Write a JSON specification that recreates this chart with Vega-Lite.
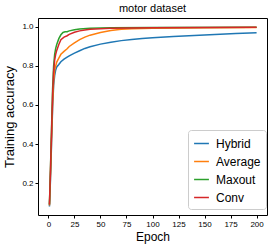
{
  "$schema": "https://vega.github.io/schema/vega-lite/v6.json",
  "autosize": "none",
  "width": 229,
  "height": 197,
  "padding": {"left": 38, "top": 18, "right": 10, "bottom": 34},
  "background": "white",
  "config": {
    "view": {"stroke": "black", "strokeWidth": 1},
    "font": "Liberation Sans"
  },
  "title": {"text": "motor dataset", "fontSize": 11, "fontWeight": "normal", "font": "Liberation Sans", "offset": 4, "color": "black"},
  "datasets": {
    "d": [
      {"model": "Hybrid", "epoch": 1, "acc": 0.08},
      {"model": "Hybrid", "epoch": 2, "acc": 0.22},
      {"model": "Hybrid", "epoch": 3, "acc": 0.40},
      {"model": "Hybrid", "epoch": 4, "acc": 0.58},
      {"model": "Hybrid", "epoch": 5, "acc": 0.70},
      {"model": "Hybrid", "epoch": 6, "acc": 0.75},
      {"model": "Hybrid", "epoch": 7, "acc": 0.78},
      {"model": "Hybrid", "epoch": 8, "acc": 0.795},
      {"model": "Hybrid", "epoch": 10, "acc": 0.808},
      {"model": "Hybrid", "epoch": 12, "acc": 0.822},
      {"model": "Hybrid", "epoch": 15, "acc": 0.835},
      {"model": "Hybrid", "epoch": 18, "acc": 0.845},
      {"model": "Hybrid", "epoch": 20, "acc": 0.852},
      {"model": "Hybrid", "epoch": 25, "acc": 0.866},
      {"model": "Hybrid", "epoch": 30, "acc": 0.878},
      {"model": "Hybrid", "epoch": 35, "acc": 0.89},
      {"model": "Hybrid", "epoch": 40, "acc": 0.899},
      {"model": "Hybrid", "epoch": 50, "acc": 0.912},
      {"model": "Hybrid", "epoch": 60, "acc": 0.922},
      {"model": "Hybrid", "epoch": 70, "acc": 0.93},
      {"model": "Hybrid", "epoch": 80, "acc": 0.936},
      {"model": "Hybrid", "epoch": 90, "acc": 0.941},
      {"model": "Hybrid", "epoch": 100, "acc": 0.945},
      {"model": "Hybrid", "epoch": 120, "acc": 0.951},
      {"model": "Hybrid", "epoch": 140, "acc": 0.956},
      {"model": "Hybrid", "epoch": 160, "acc": 0.962},
      {"model": "Hybrid", "epoch": 180, "acc": 0.966},
      {"model": "Hybrid", "epoch": 200, "acc": 0.97},

      {"model": "Average", "epoch": 1, "acc": 0.085},
      {"model": "Average", "epoch": 2, "acc": 0.24},
      {"model": "Average", "epoch": 3, "acc": 0.42},
      {"model": "Average", "epoch": 4, "acc": 0.60},
      {"model": "Average", "epoch": 5, "acc": 0.72},
      {"model": "Average", "epoch": 6, "acc": 0.78},
      {"model": "Average", "epoch": 7, "acc": 0.80},
      {"model": "Average", "epoch": 8, "acc": 0.82},
      {"model": "Average", "epoch": 10, "acc": 0.84},
      {"model": "Average", "epoch": 12, "acc": 0.86},
      {"model": "Average", "epoch": 15, "acc": 0.875},
      {"model": "Average", "epoch": 18, "acc": 0.888},
      {"model": "Average", "epoch": 20, "acc": 0.90},
      {"model": "Average", "epoch": 25, "acc": 0.918},
      {"model": "Average", "epoch": 30, "acc": 0.935},
      {"model": "Average", "epoch": 35, "acc": 0.948},
      {"model": "Average", "epoch": 40, "acc": 0.958},
      {"model": "Average", "epoch": 50, "acc": 0.972},
      {"model": "Average", "epoch": 60, "acc": 0.982},
      {"model": "Average", "epoch": 70, "acc": 0.988},
      {"model": "Average", "epoch": 80, "acc": 0.991},
      {"model": "Average", "epoch": 100, "acc": 0.994},
      {"model": "Average", "epoch": 150, "acc": 0.996},
      {"model": "Average", "epoch": 200, "acc": 0.997},

      {"model": "Maxout", "epoch": 1, "acc": 0.09},
      {"model": "Maxout", "epoch": 2, "acc": 0.28},
      {"model": "Maxout", "epoch": 3, "acc": 0.48},
      {"model": "Maxout", "epoch": 4, "acc": 0.68},
      {"model": "Maxout", "epoch": 5, "acc": 0.80},
      {"model": "Maxout", "epoch": 6, "acc": 0.86},
      {"model": "Maxout", "epoch": 7, "acc": 0.89},
      {"model": "Maxout", "epoch": 8, "acc": 0.91},
      {"model": "Maxout", "epoch": 10, "acc": 0.94},
      {"model": "Maxout", "epoch": 12, "acc": 0.96},
      {"model": "Maxout", "epoch": 14, "acc": 0.972},
      {"model": "Maxout", "epoch": 16, "acc": 0.975},
      {"model": "Maxout", "epoch": 18, "acc": 0.976},
      {"model": "Maxout", "epoch": 20, "acc": 0.98},
      {"model": "Maxout", "epoch": 25, "acc": 0.986},
      {"model": "Maxout", "epoch": 30, "acc": 0.99},
      {"model": "Maxout", "epoch": 40, "acc": 0.993},
      {"model": "Maxout", "epoch": 50, "acc": 0.995},
      {"model": "Maxout", "epoch": 60, "acc": 0.996},
      {"model": "Maxout", "epoch": 100, "acc": 0.997},
      {"model": "Maxout", "epoch": 200, "acc": 0.998},

      {"model": "Conv", "epoch": 1, "acc": 0.09},
      {"model": "Conv", "epoch": 2, "acc": 0.27},
      {"model": "Conv", "epoch": 3, "acc": 0.46},
      {"model": "Conv", "epoch": 4, "acc": 0.65},
      {"model": "Conv", "epoch": 5, "acc": 0.77},
      {"model": "Conv", "epoch": 6, "acc": 0.83},
      {"model": "Conv", "epoch": 7, "acc": 0.86},
      {"model": "Conv", "epoch": 8, "acc": 0.88},
      {"model": "Conv", "epoch": 10, "acc": 0.91},
      {"model": "Conv", "epoch": 12, "acc": 0.935},
      {"model": "Conv", "epoch": 15, "acc": 0.948},
      {"model": "Conv", "epoch": 18, "acc": 0.955},
      {"model": "Conv", "epoch": 20, "acc": 0.962},
      {"model": "Conv", "epoch": 25, "acc": 0.973},
      {"model": "Conv", "epoch": 30, "acc": 0.98},
      {"model": "Conv", "epoch": 35, "acc": 0.985},
      {"model": "Conv", "epoch": 40, "acc": 0.988},
      {"model": "Conv", "epoch": 50, "acc": 0.991},
      {"model": "Conv", "epoch": 60, "acc": 0.993},
      {"model": "Conv", "epoch": 80, "acc": 0.995},
      {"model": "Conv", "epoch": 100, "acc": 0.996},
      {"model": "Conv", "epoch": 150, "acc": 0.997},
      {"model": "Conv", "epoch": 200, "acc": 0.998}
    ]
  },
  "data": {"name": "d"},
  "mark": {"type": "line", "strokeWidth": 1.5, "clip": true},
  "encoding": {
    "x": {
      "field": "epoch", "type": "quantitative",
      "scale": {"domain": [-10, 210], "nice": false, "zero": false},
      "axis": {"values": [0, 25, 50, 75, 100, 125, 150, 175, 200], "title": "Epoch", "titleFontSize": 12, "titleFontWeight": "normal", "titleColor": "black", "titlePadding": 3, "labelFontSize": 8, "labelColor": "black", "tickColor": "black", "tickSize": 3, "domain": false, "grid": false, "labelPadding": 2}
    },
    "y": {
      "field": "acc", "type": "quantitative",
      "scale": {"domain": [0.036, 1.046], "nice": false, "zero": false},
      "axis": {"values": [0.2, 0.4, 0.6, 0.8, 1.0], "format": ".1f", "title": "Training accuracy", "titleFontSize": 13, "titleFontWeight": "normal", "titleColor": "black", "titlePadding": 5, "labelFontSize": 8, "labelColor": "black", "tickColor": "black", "tickSize": 3, "domain": false, "grid": false, "labelPadding": 2}
    },
    "color": {
      "field": "model", "type": "nominal",
      "scale": {"domain": ["Hybrid", "Average", "Maxout", "Conv"], "range": ["#1f77b4", "#ff7f0e", "#2ca02c", "#d62728"]},
      "legend": {
        "title": null, "orient": "none", "legendX": 150, "legendY": 112,
        "symbolType": "stroke", "symbolSize": 220, "symbolStrokeWidth": 1.5,
        "labelFontSize": 12, "labelColor": "black", "rowPadding": 3, "labelOffset": 6,
        "strokeColor": "#cccccc", "fillColor": "white", "padding": 5, "cornerRadius": 3, "labelLimit": 200
      }
    },
    "order": {"field": "epoch", "type": "quantitative"}
  }
}
